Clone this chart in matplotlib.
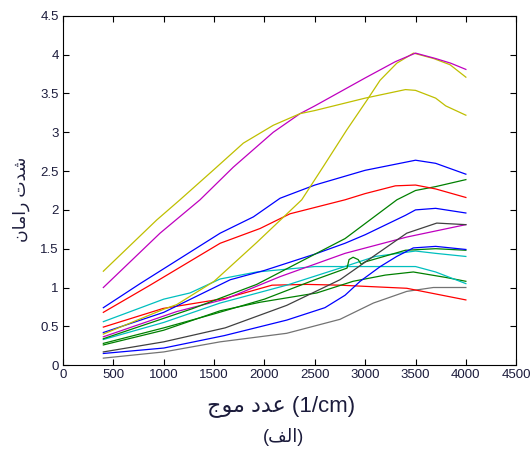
import matplotlib
matplotlib.use('Agg')
import matplotlib.pyplot as plt

plt.rcParams['font.family'] = ['Liberation Sans', 'DejaVu Sans']

# spectra: wavenumber (1/cm) and intensity
yellow_a_x = [400, 930, 1161, 1490, 1790, 2087, 2353, 2500, 3000, 3400, 3500, 3700, 3800, 4000]
yellow_a_y = [1.21, 1.87, 2.13, 2.51, 2.86, 3.09, 3.24, 3.28, 3.44, 3.55, 3.54, 3.44, 3.34, 3.22]

magenta_a_x = [400, 963, 1360, 1690, 2087, 2353, 2500, 3000, 3300, 3500, 3700, 3850, 4000]
magenta_a_y = [1.0, 1.70, 2.13, 2.55, 3.0, 3.24, 3.34, 3.70, 3.91, 4.02, 3.95, 3.89, 3.81]

yellow_b_x = [400, 1000, 1129, 1500, 1923, 2370, 2585, 2817, 3016, 3148, 3314, 3480, 3680, 3843, 4000]
yellow_b_y = [0.40, 0.72, 0.78, 1.08, 1.58, 2.13, 2.56, 3.03, 3.41, 3.67, 3.89, 4.02, 3.95, 3.87, 3.71]

blue_a_x = [400, 765, 1560, 1890, 2155, 2500, 3000, 3500, 3700, 4000]
blue_a_y = [0.74, 1.05, 1.70, 1.91, 2.15, 2.32, 2.51, 2.64, 2.60, 2.46]

red_a_x = [400, 864, 1560, 1956, 2254, 2800, 3000, 3300, 3500, 3700, 4000]
red_a_y = [0.68, 1.03, 1.57, 1.76, 1.95, 2.13, 2.21, 2.31, 2.32, 2.27, 2.16]

green_a_x = [400, 1290, 1923, 2353, 2800, 3315, 3500, 3700, 4000]
green_a_y = [0.34, 0.73, 1.04, 1.33, 1.63, 2.13, 2.25, 2.30, 2.39]

blue_b_x = [400, 1000, 1660, 2000, 2500, 2800, 3000, 3400, 3500, 3700, 4000]
blue_b_y = [0.42, 0.68, 1.10, 1.22, 1.43, 1.57, 1.68, 1.93, 2.0, 2.02, 1.96]

black_a_x = [400, 1000, 1610, 2221, 2750, 3080, 3413, 3711, 4000]
black_a_y = [0.17, 0.30, 0.48, 0.77, 1.10, 1.40, 1.70, 1.83, 1.81]

magenta_b_x = [400, 1129, 1610, 2155, 2800, 3413, 4000]
magenta_b_y = [0.365, 0.69, 0.85, 1.14, 1.44, 1.65, 1.81]

blue_c_x = [400, 1000, 1600, 2221, 2600, 2800, 2950, 3150, 3313, 3478, 3700, 4000]
blue_c_y = [0.15, 0.22, 0.38, 0.58, 0.74, 0.90, 1.08, 1.27, 1.40, 1.51, 1.53, 1.49]

green_b_x = [400, 1000, 1500, 2000, 2500, 2820, 2840, 2880, 2930, 2960, 3000, 3400, 3700, 4000]
green_b_y = [0.28, 0.48, 0.66, 0.85, 1.10, 1.25, 1.36, 1.39, 1.36, 1.30, 1.33, 1.48, 1.50, 1.48]

cyan_a_x = [400, 1000, 1261, 1560, 1923, 2500, 3000, 3500, 3700, 4000]
cyan_a_y = [0.56, 0.85, 0.93, 1.11, 1.20, 1.27, 1.27, 1.27, 1.20, 1.05]

cyan_b_x = [400, 1000, 1560, 2221, 2750, 3100, 3500, 3700, 4000]
cyan_b_y = [0.33, 0.55, 0.80, 1.03, 1.25, 1.40, 1.47, 1.44, 1.40]

green_c_x = [400, 1000, 1560, 1956, 2520, 2880, 3200, 3478, 3800, 4000]
green_c_y = [0.26, 0.45, 0.70, 0.81, 0.93, 1.08, 1.16, 1.20, 1.13, 1.08]

red_b_x = [400, 993, 1610, 2075, 2420, 2750, 3413, 4000]
red_b_y = [0.49, 0.73, 0.86, 1.03, 1.04, 1.03, 0.99, 0.84]

gray_x = [400, 1000, 1560, 2221, 2750, 3082, 3413, 3677, 4000]
gray_y = [0.09, 0.17, 0.30, 0.41, 0.59, 0.80, 0.95, 1.0, 1.0]

x_ticks = [0, 500, 1000, 1500, 2000, 2500, 3000, 3500, 4000, 4500]
y_ticks = [0, 0.5, 1, 1.5, 2, 2.5, 3, 3.5, 4, 4.5]

B = (0, 0, 1)
G = (0, 0.5, 0)
R = (1, 0, 0)
C = (0, 0.75, 0.75)
M = (0.75, 0, 0.75)
Y = (0.75, 0.75, 0)
K = (0.25, 0.25, 0.25)

series = [
    (gray_x, gray_y, (0.45, 0.45, 0.45)),
    (red_b_x, red_b_y, R),
    (green_c_x, green_c_y, G),
    (cyan_b_x, cyan_b_y, C),
    (cyan_a_x, cyan_a_y, C),
    (green_b_x, green_b_y, G),
    (blue_c_x, blue_c_y, B),
    (magenta_b_x, magenta_b_y, M),
    (black_a_x, black_a_y, K),
    (blue_b_x, blue_b_y, B),
    (green_a_x, green_a_y, G),
    (red_a_x, red_a_y, R),
    (blue_a_x, blue_a_y, B),
    (yellow_b_x, yellow_b_y, Y),
    (magenta_a_x, magenta_a_y, M),
    (yellow_a_x, yellow_a_y, Y),
]

fig = plt.figure(figsize=(5.30, 4.53), dpi=100)
ax = fig.add_axes([0.119, 0.194, 0.855, 0.771])

for xs, ys, col in series:
    ax.plot(xs, ys, color=col, lw=0.9)

ax.set_xlim(0, 4500)
ax.set_ylim(0, 4.5)
ax.set_xticks(x_ticks)
ax.set_yticks(y_ticks)
ax.set_yticklabels(['0', '0.5', '1', '1.5', '2', '2.5', '3', '3.5', '4', '4.5'])
ax.tick_params(direction='in', top=True, right=True, length=4, labelsize=9.5,
               labelcolor='#1c1c3c', pad=3)
for sp in ax.spines.values():
    sp.set_linewidth(0.8)

# Persian text in visual order with presentation forms
xlab = '\uFE9D\uFEEE\uFEE3 \uFEA9\uFEAA\uFECB (1/cm)'
ylab = '\uFEE5\uFE8E\uFEE3\uFE8D\uFEAD \uFE95\uFEAA\uFEB7'
cap = '(\uFED2\uFEDF\uFE8D)'

fig.text(0.53, 0.103, xlab, ha='center', va='center', fontsize=16, color='#1c1c3c')
fig.text(0.04, 0.56, ylab, ha='center', va='center', rotation=90, fontsize=12.5,
         color='#1c1c3c')
fig.text(0.535, 0.035, cap, ha='center', va='center', fontsize=13, color='#1c1c3c')

fig.savefig('out.png', dpi=100)
